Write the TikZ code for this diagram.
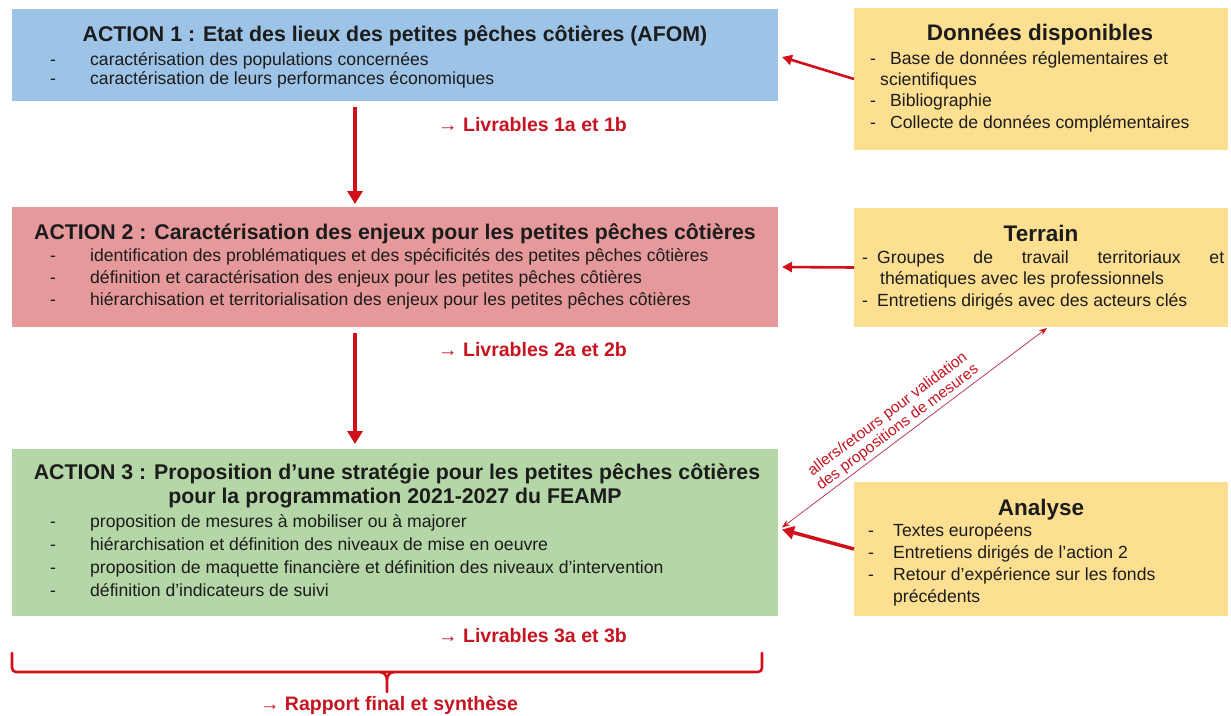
\documentclass[tikz,border=0pt]{standalone}
\usepackage{fontspec}
\setmainfont{Liberation Sans}
\usetikzlibrary{arrows.meta}
\definecolor{aone}{HTML}{9DC3E6}
\definecolor{atwo}{HTML}{E6999B}
\definecolor{athree}{HTML}{B5D6A6}
\definecolor{ybox}{HTML}{FDDF92}
\definecolor{arrred}{RGB}{208,16,26}
\definecolor{lblred}{RGB}{198,20,32}
\definecolor{thinred}{RGB}{188,60,88}
\definecolor{ink}{HTML}{1C1C1C}
\tikzset{
  panel/.style={draw=none, inner sep=0pt, outer sep=0pt, anchor=north west},
  acttitle/.style={font=\fontsize{21.3}{24}\selectfont\bfseries, text=ink, inner sep=0pt, align=center, anchor=mid, yshift=-4pt},
  sidetitle/.style={font=\fontsize{22.5}{26}\selectfont\bfseries, text=ink, inner sep=0pt, anchor=mid, yshift=-5pt},
  bodytxt/.style={font=\fontsize{17.6}{21}\selectfont, text=ink, inner sep=0pt, anchor=mid west, yshift=-3pt},
  livr/.style={font=\fontsize{19.5}{23}\selectfont\bfseries, text=lblred, inner sep=0pt, anchor=mid west, yshift=-4pt},
  bigarrow/.style={draw=arrred, line width=4pt, -{Triangle[length=13pt,width=15pt]}},
  sidearrow/.style={draw=arrred, line width=2.6pt, -{Triangle[length=10pt,width=10pt]}},
  thinarrow/.style={draw=thinred, line width=0.8pt, {Stealth[length=8pt,width=6pt,color=arrred]}-{Stealth[length=8pt,width=6pt,color=arrred]}},
  bracepath/.style={draw=arrred, line width=2.6pt, line cap=round, line join=round},
  slopelbl/.style={font=\fontsize{15.5}{16.5}\selectfont, text=lblred, align=center, inner sep=2.5pt},
}
\begin{document}
\begin{tikzpicture}[x=1pt,y=-1pt]
\useasboundingbox (0,0) rectangle (1231,715);
\fill[white] (0,0) rectangle (1231,715);

% ---- action boxes
\node[panel, fill=aone, minimum width=766pt, minimum height=92pt] (a1) at (12,9) {};
\node[panel, fill=atwo, minimum width=766pt, minimum height=120pt] (a2) at (12,207) {};
\node[panel, fill=athree, minimum width=766pt, minimum height=167pt] (a3) at (12,449) {};

% ---- side boxes
\node[panel, fill=ybox, minimum width=374pt, minimum height=142pt] (don) at (854,8) {};
\node[panel, fill=ybox, minimum width=374pt, minimum height=119pt] (ter) at (854,208) {};
\node[panel, fill=ybox, minimum width=374pt, minimum height=134pt] (ana) at (854,482) {};

% ---- action 1 text
\node[acttitle] (t1) at (395,35) {ACTION 1 : Etat des lieux des petites pêches côtières (AFOM)};
\node[bodytxt] (b11) at (50,59.5) {\makebox[40pt][l]{-}caractérisation des populations concernées};
\node[bodytxt] (b12) at (50,78.5) {\makebox[40pt][l]{-}caractérisation de leurs performances économiques};

% ---- action 2 text
\node[acttitle] (t2) at (395,233) {ACTION 2 : Caractérisation des enjeux pour les petites pêches côtières};
\node[bodytxt] (b21) at (50,256) {\makebox[40pt][l]{-}identification des problématiques et des spécificités des petites pêches côtières};
\node[bodytxt] (b22) at (50,278) {\makebox[40pt][l]{-}définition et caractérisation des enjeux pour les petites pêches côtières};
\node[bodytxt] (b23) at (50,300) {\makebox[40pt][l]{-}hiérarchisation et territorialisation des enjeux pour les petites pêches côtières};

% ---- action 3 text
\node[acttitle] (t3a) at (397,473) {ACTION 3 : Proposition d’une stratégie pour les petites pêches côtières};
\node[acttitle] (t3b) at (395,497) {pour la programmation 2021-2027 du FEAMP};
\node[bodytxt] (b31) at (50,522) {\makebox[40pt][l]{-}proposition de mesures à mobiliser ou à majorer};
\node[bodytxt] (b32) at (50,545) {\makebox[40pt][l]{-}hiérarchisation et définition des niveaux de mise en oeuvre};
\node[bodytxt] (b33) at (50,568) {\makebox[40pt][l]{-}proposition de maquette financière et définition des niveaux d’intervention};
\node[bodytxt] (b34) at (50,591) {\makebox[40pt][l]{-}définition d’indicateurs de suivi};

% ---- données
\node[sidetitle] (td) at (1040,33) {Données disponibles};
\node[bodytxt] (d1) at (870,59) {\makebox[20pt][l]{-}Base de données réglementaires et};
\node[bodytxt] (d2) at (880,80) {scientifiques};
\node[bodytxt] (d3) at (870,101) {\makebox[20pt][l]{-}Bibliographie};
\node[bodytxt] (d4) at (870,123) {\makebox[20pt][l]{-}Collecte de données complémentaires};

% ---- terrain
\node[sidetitle] (tt) at (1041,234) {Terrain};
\node[bodytxt] (e1) at (862,258) {\makebox[15pt][l]{-}\makebox[347pt][s]{Groupes de travail territoriaux et}};
\node[bodytxt] (e2) at (880,279) {thématiques avec les professionnels};
\node[bodytxt] (e3) at (862,301) {\makebox[15pt][l]{-}Entretiens dirigés avec des acteurs clés};

% ---- analyse
\node[sidetitle] (ta) at (1041,508) {Analyse};
\node[bodytxt] (f1) at (868,531) {\makebox[25pt][l]{-}Textes européens};
\node[bodytxt] (f2) at (868,553) {\makebox[25pt][l]{-}Entretiens dirigés de l’action 2};
\node[bodytxt] (f3) at (868,575) {\makebox[25pt][l]{-}Retour d’expérience sur les fonds};
\node[bodytxt] (f4) at (893,597) {précédents};

% ---- livrables
\node[livr] (l1) at (438,125) {→ Livrables 1a et 1b};
\node[livr] (l2) at (438,350) {→ Livrables 2a et 2b};
\node[livr] (l3) at (438,636) {→ Livrables 3a et 3b};

% ---- vertical arrows
\draw[bigarrow, shorten <=6pt, shorten >=3pt] ([xshift=-40pt]a1.south) -- ([xshift=-40pt]a2.north);
\draw[bigarrow, shorten <=6pt, shorten >=5pt] ([xshift=-40pt]a2.south) -- ([xshift=-40pt]a3.north);

% ---- side arrows
\draw[sidearrow] (don.west) -- ([shift={(4pt,-2pt)}]a1.east);
\draw[sidearrow] (ter.west) -- ([xshift=4pt]a2.east);
\draw[sidearrow, line width=3.5pt, -{Triangle[length=12pt,width=13pt]}] (ana.west) -- ([shift={(4pt,3pt)}]a3.east);

% ---- two-way arrow
\draw[thinarrow] ([shift={(4pt,5pt)}]a3.east) -- node[slopelbl, sloped, above, pos=0.46] {allers/retours pour validation\\des propositions de mesures} ([shift={(6pt,-1pt)}]ter.south);

% ---- brace
\coordinate (bl) at (12,653);
\coordinate (br) at (762,653);
\coordinate (btip) at (387,692);
\draw[bracepath, rounded corners=4pt] (bl) -- (12,672) -- (762,672) -- (br);
\draw[bracepath] (380,672) to[out=0,in=90] (btip |- 0,680) -- (btip);
\draw[bracepath] (394,672) to[out=180,in=90] (btip |- 0,680);
\node[livr, anchor=mid, yshift=0pt] (rap) at (389,704) {→ Rapport final et synthèse};
\end{tikzpicture}
\end{document}
